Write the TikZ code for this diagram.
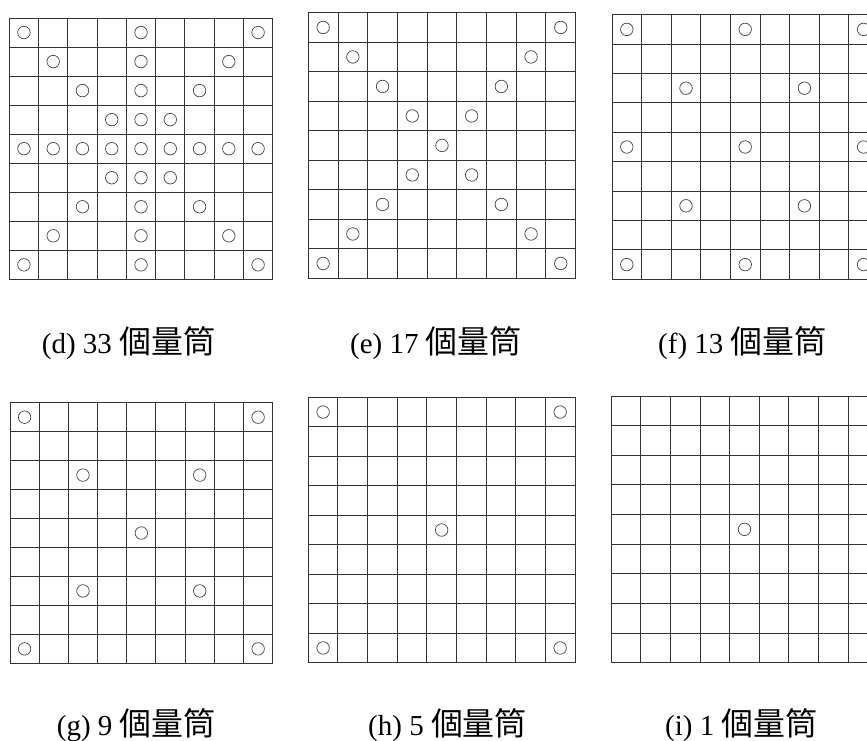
\documentclass[tikz,border=0pt]{standalone}
\usepackage{fontspec}
\setmainfont{Liberation Serif}
\newfontfamily\cjk{Noto Sans CJK TC}[Scale=1.1]
\tikzset{
  gridline/.style={draw=black!80, line width=0.95pt},
  meas/.style={draw=black!70, line width=0.75pt, circle, inner sep=0pt, minimum size=12.5pt},
  caplabel/.style={anchor=base west, inner sep=0pt, font=\fontsize{29}{32}\selectfont},
}
\newcommand{\mygrid}[6]{%
  \begin{scope}[shift={(#2,#3)}]
    \foreach \i in {0,...,9} {
      \draw[gridline] (\i*#4,0) -- (\i*#4,9*#5);
      \draw[gridline] (0,\i*#5) -- (9*#4,\i*#5);
    }
    \foreach \c/\r in {#6}
      \node[meas] (#1-\c-\r) at ({(\c+0.5)*#4},{(\r+0.5)*#5}) {};
  \end{scope}}
\begin{document}
\begin{tikzpicture}[x=1pt,y=-1pt]
\useasboundingbox (0,0) rectangle (867,740);
\clip (0,0) rectangle (867,740);
% (d) 33
\mygrid{d}{9.3}{18}{29.27}{29.04}{0/0,4/0,8/0,1/1,4/1,7/1,2/2,4/2,6/2,3/3,4/3,5/3,0/4,1/4,2/4,3/4,4/4,5/4,6/4,7/4,8/4,3/5,4/5,5/5,2/6,4/6,6/6,1/7,4/7,7/7,0/8,4/8,8/8}
% (e) 17
\mygrid{e}{308.3}{12.7}{29.7}{29.5}{0/0,8/0,1/1,7/1,2/2,6/2,3/3,5/3,4/4,3/5,5/5,2/6,6/6,1/7,7/7,0/8,8/8}
% (f) 13
\mygrid{f}{612}{14.7}{29.6}{29.4}{0/0,4/0,8/0,2/2,6/2,0/4,4/4,8/4,2/6,6/6,0/8,4/8,8/8}
% (g) 9
\mygrid{g}{10}{402.7}{29.19}{28.96}{0/0,8/0,2/2,6/2,4/4,2/6,6/6,0/8,8/8}
% (h) 5
\mygrid{h}{308.3}{397.3}{29.63}{29.49}{0/0,8/0,4/4,0/8,8/8}
% (i) 1
\mygrid{i}{611.3}{396}{29.6}{29.63}{4/4}
% captions
\node[caplabel] (capd) at (41.7,353) {(d) 33 {\cjk 個量筒}};
\node[caplabel] (cape) at (350,353) {(e) 17 {\cjk 個量筒}};
\node[caplabel] (capf) at (658,353) {(f) 13 {\cjk 個量筒}};
\node[caplabel] (capg) at (56.7,735) {(g) 9 {\cjk 個量筒}};
\node[caplabel] (caph) at (368,735) {(h) 5 {\cjk 個量筒}};
\node[caplabel] (capi) at (665,735) {(i) 1 {\cjk 個量筒}};
\end{tikzpicture}
\end{document}
